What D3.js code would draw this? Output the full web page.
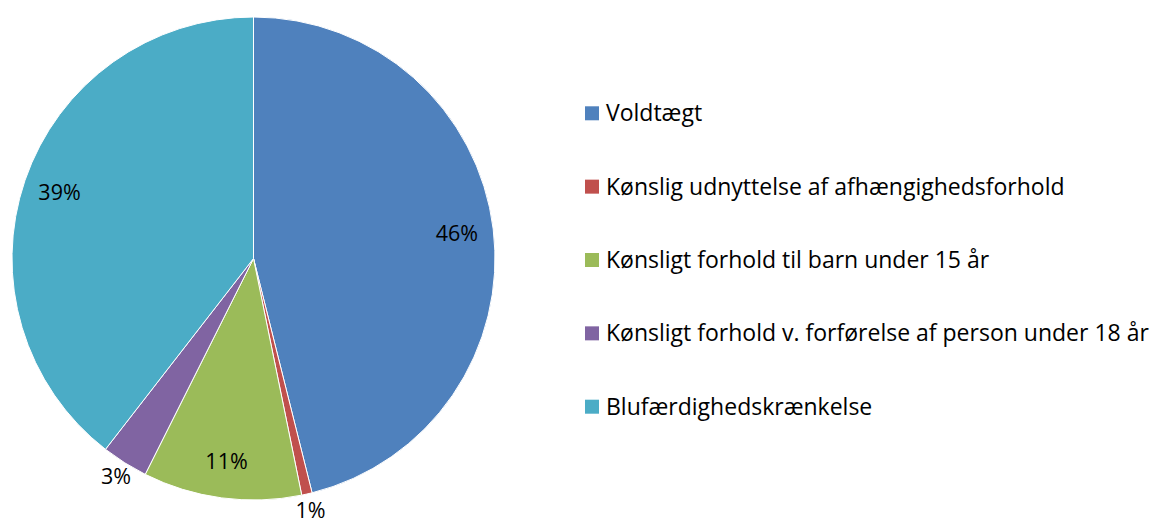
<!DOCTYPE html>
<html>
<head>
<meta charset="utf-8">
<script src="https://cdn.jsdelivr.net/npm/d3@7"></script>
<style>
  body { margin: 0; background: #fff; }
  svg { display: block; font-family: "Open Sans", Lato, sans-serif; }
</style>
</head>
<body>
<div id="chart"></div>
<script>
const categories = [
  'Voldtægt',
  'Kønslig udnyttelse af afhængighedsforhold',
  'Kønsligt forhold til barn under 15 år',
  'Kønsligt forhold v. forførelse af person under 18 år',
  'Blufærdighedskrænkelse',
];
const values = [46.1, 0.7, 10.6, 3.1, 39.5];
const labels = ['46%', '1%', '11%', '3%', '39%'];
const colors = ['#4f81bd', '#c0504d', '#9bbb59', '#8064a2', '#4bacc6'];

const width = 1158;
const height = 525;
const cx = 253.5;
const cy = 258.5;
const radius = 241.5;

const svg = d3.select('#chart')
  .append('svg')
  .attr('width', width)
  .attr('height', height);

const data = categories.map((name, i) => ({ name, value: values[i], label: labels[i], color: colors[i] }));

const pie = d3.pie()
  .value(d => d.value)
  .sort(null);

const arc = d3.arc().innerRadius(0).outerRadius(radius);
const inLabel = d3.arc().innerRadius(205).outerRadius(205);
const outLabel = d3.arc().innerRadius(258).outerRadius(258);

const g = svg.append('g').attr('transform', `translate(${cx}, ${cy})`);
const arcs = pie(data);

g.selectAll('path.slice')
  .data(arcs)
  .join('path')
  .attr('class', 'slice')
  .attr('d', arc)
  .attr('fill', d => d.data.color)
  .attr('stroke', '#fff')
  .attr('stroke-width', 1);

g.selectAll('text.pct')
  .data(arcs)
  .join('text')
  .attr('class', 'pct')
  .attr('transform', d => `translate(${(d.data.value < 5 ? outLabel : inLabel).centroid(d)})`)
  .attr('text-anchor', 'middle')
  .attr('dy', '0.35em')
  .style('font-size', '21.5px')
  .style('fill', '#000')
  .text(d => d.data.label);

// legend
const legendY = d3.scalePoint()
  .domain(categories)
  .range([113.3, 406.7]);

const legend = svg.append('g').attr('class', 'legend');
const item = legend.selectAll('g')
  .data(data)
  .join('g')
  .attr('transform', d => `translate(585, ${legendY(d.name)})`);

item.append('rect')
  .attr('x', 0)
  .attr('y', -7)
  .attr('width', 14)
  .attr('height', 14)
  .attr('fill', d => d.color);

item.append('text')
  .attr('x', 21)
  .attr('dy', '0.35em')
  .style('font-size', '23px')
  .style('fill', '#000')
  .text(d => d.name);
</script>
</body>
</html>
